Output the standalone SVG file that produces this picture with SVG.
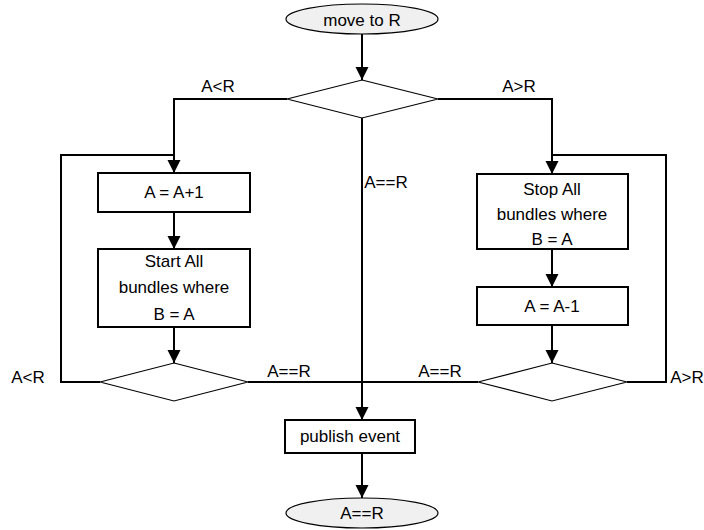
<svg xmlns="http://www.w3.org/2000/svg" width="704" height="530" viewBox="0 0 704 530">
<style>
text{font-family:"Liberation Sans",Arial,sans-serif;font-size:17px;fill:#000;text-anchor:middle}
.box{fill:#fff;stroke:#000;stroke-width:2}
.dia{fill:#fff;stroke:#000;stroke-width:1.2}
.term{fill:#f0f0f0;stroke:#000;stroke-width:1.2}
.wire{fill:none;stroke:#000;stroke-width:2}
.arr{fill:none;stroke:#000;stroke-width:2;marker-end:url(#ah)}
</style>
<defs>
<marker id="ah" markerUnits="userSpaceOnUse" markerWidth="14" markerHeight="14" viewBox="0 0 14 14" refX="13" refY="7" orient="auto">
<path d="M0,0.5 L13,7 L0,13.5 Z" fill="#000"/>
</marker>
</defs>
<rect width="704" height="530" fill="#fff"/>
<g id="connectors">
<path class="arr" d="M362,34 V80"/>
<path class="wire" d="M287,99 H174 V160"/>
<path class="arr" d="M174,155 V173"/>
<path class="wire" d="M100,382 H61 V155 H174"/>
<path class="arr" d="M174,212 V249"/>
<path class="arr" d="M174,327 V363"/>
<path class="wire" d="M438,99 H552 V160"/>
<path class="arr" d="M552,155 V174"/>
<path class="wire" d="M627,382 H666 V155 H552"/>
<path class="arr" d="M552,249 V287"/>
<path class="arr" d="M552,325 V363"/>
<path class="wire" d="M248,382 H478"/>
<path class="arr" d="M362,118 V420"/>
<path class="arr" d="M362,453 V498"/>
<text x="218" y="92">A&lt;R</text>
<text x="519" y="92">A&gt;R</text>
<text x="386" y="188">A==R</text>
<text x="28" y="383">A&lt;R</text>
<text x="289" y="377">A==R</text>
<text x="440" y="377">A==R</text>
<text x="687" y="383">A&gt;R</text>
</g>
<g id="start">
<ellipse class="term" cx="362" cy="19" rx="76" ry="15"/>
<text x="362" y="26">move to R</text>
</g>
<g id="decide">
<polygon class="dia" points="362,80 438,99 362,118 287,99"/>
</g>
<g id="inc">
<rect class="box" x="98" y="173" width="152" height="39"/>
<text x="174" y="198">A = A+1</text>
</g>
<g id="startAll">
<rect class="box" x="98" y="249" width="152" height="78"/>
<text x="174" y="267">Start All</text>
<text x="174" y="293">bundles where</text>
<text x="174" y="320">B = A</text>
</g>
<g id="leftCheck">
<polygon class="dia" points="174,363 248,382 174,401 100,382"/>
</g>
<g id="stopAll">
<rect class="box" x="477" y="174" width="151" height="75"/>
<text x="552" y="195">Stop All</text>
<text x="552" y="220">bundles where</text>
<text x="552" y="245">B = A</text>
</g>
<g id="dec">
<rect class="box" x="477" y="287" width="151" height="38"/>
<text x="552" y="312">A = A-1</text>
</g>
<g id="rightCheck">
<polygon class="dia" points="552,363 627,382 552,401 478,382"/>
</g>
<g id="publish">
<rect class="box" x="285" y="420" width="130" height="33"/>
<text x="350" y="442">publish event</text>
</g>
<g id="end">
<ellipse class="term" cx="362" cy="513" rx="76" ry="15"/>
<text x="362" y="519">A==R</text>
</g>
</svg>
